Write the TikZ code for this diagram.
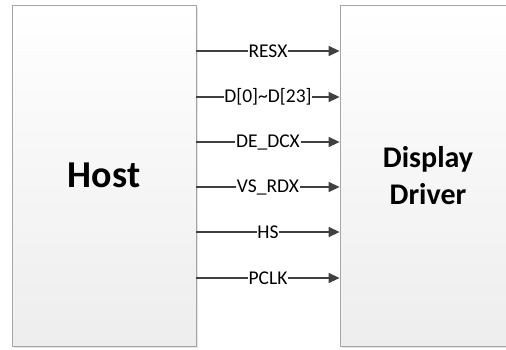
\documentclass[tikz,border=0pt]{standalone}
\usepackage{fontspec}
\setmainfont{Carlito}
\usetikzlibrary{arrows.meta,shadows}
\definecolor{wire}{HTML}{404040}
\definecolor{frame}{HTML}{A6A6A6}
\tikzset{
  block/.style={draw=frame, line width=0.8pt, rectangle, top color=white, bottom color=black!7,
    drop shadow={shadow xshift=1.6pt, shadow yshift=-1.6pt, fill=black!18, opacity=0.6},
    align=center, font=\bfseries},
  sig/.style={draw=wire, line width=1.4pt, -{Triangle[length=11pt,width=10pt]}},
  lbl/.style={fill=white, inner xsep=0.8pt, inner ysep=1pt, font=\fontsize{19.5}{22}\selectfont, text=black}
}
\begin{document}
\begin{tikzpicture}[x=1pt,y=-1pt]
  \useasboundingbox (0,0) rectangle (506,349);
  \begin{scope}
    \clip (0,0) rectangle (506,349);
    \node[block, minimum width=184pt, minimum height=341pt,
      font=\bfseries\fontsize{38}{44}\selectfont] (host) at (104,175.5) {Host};
    \node[block, minimum width=176pt, minimum height=341pt,
      font=\bfseries\fontsize{30}{37}\selectfont] (driver) at (428,175.5) {Display\\Driver};
  \end{scope}
  \draw[sig] (host.east |- 0,51)  -- node[lbl] {RESX} (driver.west |- 0,51);
  \draw[sig] (host.east |- 0,97)  -- node[lbl] {D[0]\char`\~D[23]} (driver.west |- 0,97);
  \draw[sig] (host.east |- 0,142) -- node[lbl] {DE\_DCX} (driver.west |- 0,142);
  \draw[sig] (host.east |- 0,187) -- node[lbl] {VS\_RDX} (driver.west |- 0,187);
  \draw[sig] (host.east |- 0,232) -- node[lbl] {HS} (driver.west |- 0,232);
  \draw[sig] (host.east |- 0,278) -- node[lbl] {PCLK} (driver.west |- 0,278);
\end{tikzpicture}
\end{document}
